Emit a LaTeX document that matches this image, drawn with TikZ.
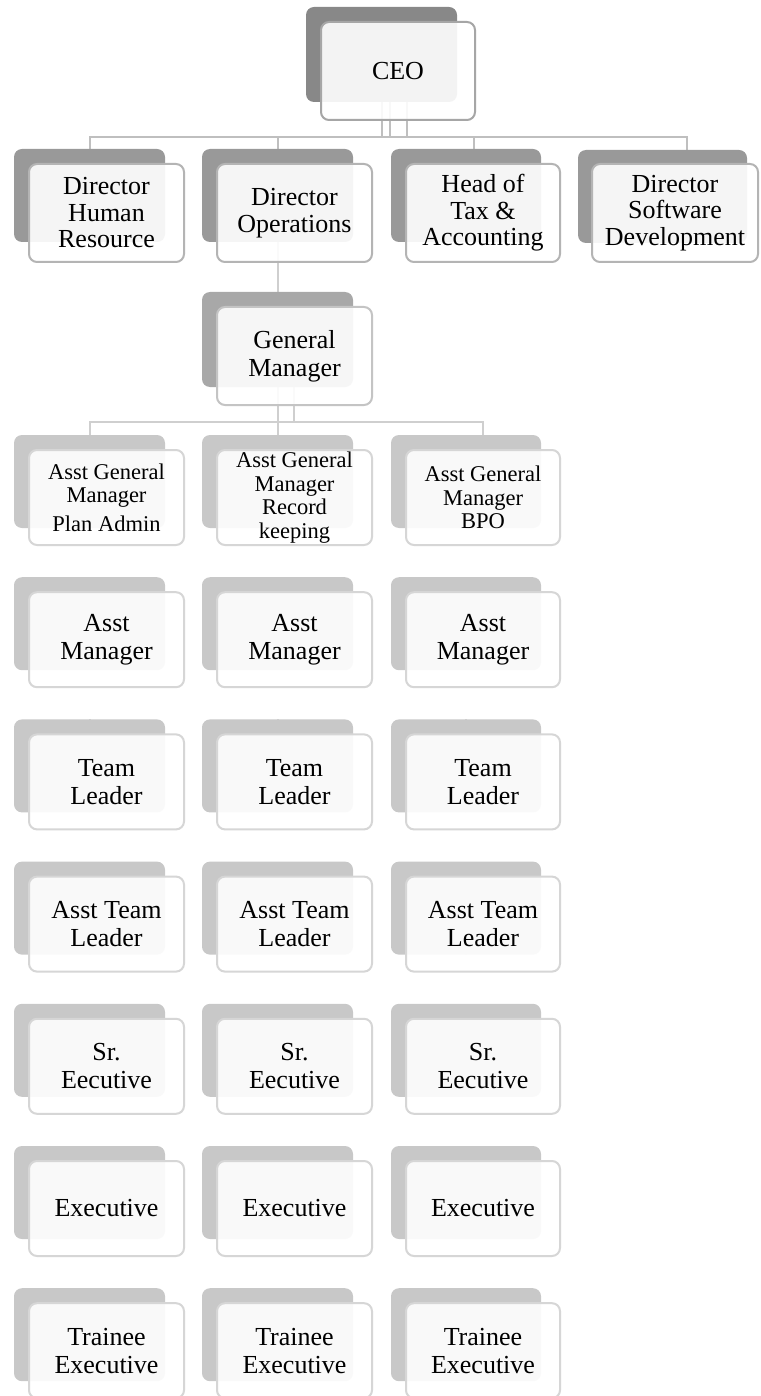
\documentclass[tikz,border=0pt]{standalone}
\usepackage{fontspec}
\setmainfont{Liberation Serif}
\usetikzlibrary{backgrounds}
\definecolor{bkA}{HTML}{888888}
\definecolor{bkB}{HTML}{999999}
\definecolor{bkC}{HTML}{A8A8A8}
\definecolor{bkD}{HTML}{C8C8C8}
\definecolor{frA}{HTML}{A6A6A6}
\definecolor{frB}{HTML}{B4B4B4}
\definecolor{frC}{HTML}{C4C4C4}
\definecolor{frD}{HTML}{D6D6D6}
\definecolor{lnA}{HTML}{BFBFBF}
\definecolor{lnB}{HTML}{CFCFCF}
\definecolor{lnC}{HTML}{D9D9D9}
\tikzset{
  base/.style={rounded corners=8pt, inner sep=0pt, outer sep=0pt, align=center},
  backA/.style={base, fill=bkA, minimum height=95pt},
  backB/.style={base, fill=bkB, minimum height=93pt},
  backC/.style={base, fill=bkC, minimum height=95pt},
  backD/.style={base, fill=bkD, minimum height=93pt},
  backE/.style={backD},
  frontbase/.style={base, fill=white, fill opacity=0.9, text opacity=1, line width=2pt,
    font=\fontsize{26}{28}\selectfont},
  frontA/.style={frontbase, draw=frA, minimum height=98pt},
  frontB/.style={frontbase, draw=frB, minimum height=98pt, font=\fontsize{26}{26.5}\selectfont},
  frontC/.style={frontbase, draw=frC, minimum height=98pt},
  frontD/.style={frontbase, draw=frD, minimum height=95pt},
  frontE/.style={frontD, font=\fontsize{22.5}{23.5}\selectfont},
  connA/.style={draw=lnA, line width=2pt},
  connB/.style={draw=lnB, line width=2pt},
  connC/.style={draw=lnC, line width=2pt},
}
% #1 name, #2 front left, #3 front top, #4 level, #5 text, #6 front width, #7 back width
\newcommand{\orgbox}[7]{%
  \node[back#4, minimum width=#7pt, anchor=north west] (b-#1) at (#2-15, #3-15) {};
  \node[front#4, minimum width=#6pt, anchor=north west] (#1) at (#2, #3) {#5};
}
\begin{document}
\begin{tikzpicture}[x=1pt, y=-1pt]
\useasboundingbox (0,0) rectangle (760,1396);
\clip (0,0) rectangle (760,1396);
\begin{pgfonlayer}{background}
  \fill[white] (0,0) rectangle (760,1396);
\end{pgfonlayer}

% CEO
\orgbox{ceo}{321}{22}{A}{CEO}{154}{151}
% Level 2
\orgbox{hr}{29}{164}{B}{Director\\Human\\Resource}{155}{151}
\orgbox{ops}{217}{164}{B}{Director\\Operations}{155}{151}
\orgbox{tax}{406}{164}{B}{Head of\\Tax \&\\Accounting}{154}{150}
\node[backB, minimum width=169pt, anchor=north west] (b-sw) at (578,150) {};
\node[frontB, minimum width=166pt, anchor=north west] (sw) at (592,164) {Director\\Software\\Development};
% General manager
\orgbox{gm}{217}{307}{C}{General\\Manager}{155}{151}
% Asst General Managers
\orgbox{r3c1}{29}{450}{E}{Asst General\\Manager\\[5pt]Plan Admin}{155}{151}
\orgbox{r3c2}{217}{450}{E}{Asst General\\Manager\\Record\\keeping}{155}{151}
\orgbox{r3c3}{406}{450}{E}{Asst General\\Manager\\BPO}{154}{150}
% Lower rows
\foreach \r/\t/\txt in {4/592.2/{Asst\\Manager}, 5/734.4/{Team\\Leader},
    6/876.6/{Asst Team\\Leader}, 7/1018.8/{Sr.\\Eecutive}, 8/1161/{Executive},
    9/1303.2/{Trainee\\Executive}} {
  \foreach \c/\x/\fw/\bw in {1/29/155/151, 2/217/155/151, 3/406/154/150} {
    \orgbox{r\r c\c}{\x}{\t}{D}{\txt}{\fw}{\bw}
  }
}

% Connectors
\begin{pgfonlayer}{background}
  \coordinate (bus1) at (0,137);
  \foreach \s in {0.5,8.5,25.5}
    \draw[connA] ([xshift=\s pt]b-ceo.south) -- ([xshift=\s pt]b-ceo.south |- bus1);
  \coordinate (dtax) at ([xshift=8pt]b-tax.north);
  \coordinate (dsw) at ([xshift=24.5pt]b-sw.north);
  \draw[connA] (b-hr.north) -- (b-hr.north |- bus1) -- (bus1 -| dsw) -- (dsw);
  \draw[connA] (b-ops.north) -- (b-ops.north |- bus1);
  \draw[connA] (dtax) -- (dtax |- bus1);
  \draw[connB] (b-ops.south) -- (b-gm.north);
  \coordinate (bus2) at (0,422);
  \coordinate (d3) at ([xshift=17pt]b-r3c3.north);
  \draw[connB] (b-gm.south) -- (b-r3c2.north);
  \draw[connB] ([xshift=16pt]b-gm.south) -- ([xshift=16pt]b-gm.south |- bus2);
  \draw[connB] (b-r3c1.north) -- (b-r3c1.north |- bus2) -- (bus2 -| d3) -- (d3);
  \foreach \c in {1,2,3}
    \foreach \r [evaluate=\r as \n using int(\r+1)] in {3,...,8}
      \draw[connC] (b-r\r c\c.south) -- (b-r\n c\c.north);
\end{pgfonlayer}
\end{tikzpicture}
\end{document}
